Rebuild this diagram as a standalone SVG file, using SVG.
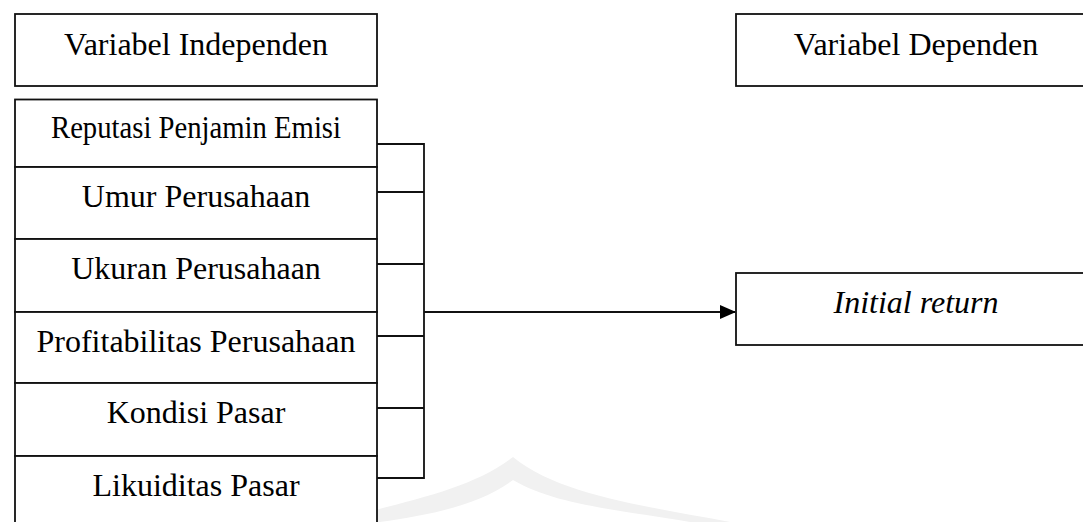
<svg xmlns="http://www.w3.org/2000/svg" width="1083" height="522" viewBox="0 0 1083 522">
<defs>
<style>
.box{fill:#fff;stroke:#111;stroke-width:1.8}
.t{font-family:"Liberation Serif","Times New Roman",serif;font-size:32px;fill:#000;text-anchor:middle}
.ln{stroke:#111;stroke-width:1.8;fill:none}
</style>
<marker id="arr" markerWidth="16" markerHeight="14" refX="15" refY="7" orient="auto" markerUnits="userSpaceOnUse">
<path d="M0,0 L16,7 L0,14 Z" fill="#000"/>
</marker>
</defs>
<rect width="1083" height="522" fill="#fff"/>
<path d="M330,522 C410,500 470,490 513,457 C560,495 640,505 730,522 L690,522 C620,510 555,505 513,480 C480,505 430,515 380,522 Z" fill="#f1f1f1"/>
<g id="n-indep"><rect class="box" x="15" y="14" width="362" height="72"/><text class="t" x="196" y="55">Variabel Independen</text></g>
<g id="n-dep"><rect class="box" x="736" y="14" width="400" height="72"/><text class="t" x="916" y="55">Variabel Dependen</text></g>
<g id="n-rep"><rect class="box" x="15" y="99.5" width="362" height="67.5"/><text class="t" x="196" y="138" textLength="290" lengthAdjust="spacingAndGlyphs">Reputasi Penjamin Emisi</text></g>
<g id="n-umur"><rect class="box" x="15" y="167" width="362" height="72"/><text class="t" x="196" y="207">Umur Perusahaan</text></g>
<g id="n-ukuran"><rect class="box" x="15" y="239" width="362" height="73"/><text class="t" x="196" y="279">Ukuran Perusahaan</text></g>
<g id="n-profit"><rect class="box" x="15" y="312" width="362" height="71"/><text class="t" x="196" y="352">Profitabilitas Perusahaan</text></g>
<g id="n-kondisi"><rect class="box" x="15" y="383" width="362" height="73"/><text class="t" x="196" y="423">Kondisi Pasar</text></g>
<g id="n-likuid"><rect class="box" x="15" y="456" width="362" height="80"/><text class="t" x="196" y="496">Likuiditas Pasar</text></g>
<g id="n-ir"><rect class="box" x="736" y="273" width="400" height="72"/><text class="t" x="916" y="313" font-style="italic">Initial return</text></g>
<g id="connectors">
<path class="ln" d="M377,144 H424 V478 H377"/>
<path class="ln" d="M377,192 H424 M377,264 H424 M377,336 H424 M377,408 H424"/>
<path class="ln" d="M424,312 H735" marker-end="url(#arr)"/>
</g>
</svg>
